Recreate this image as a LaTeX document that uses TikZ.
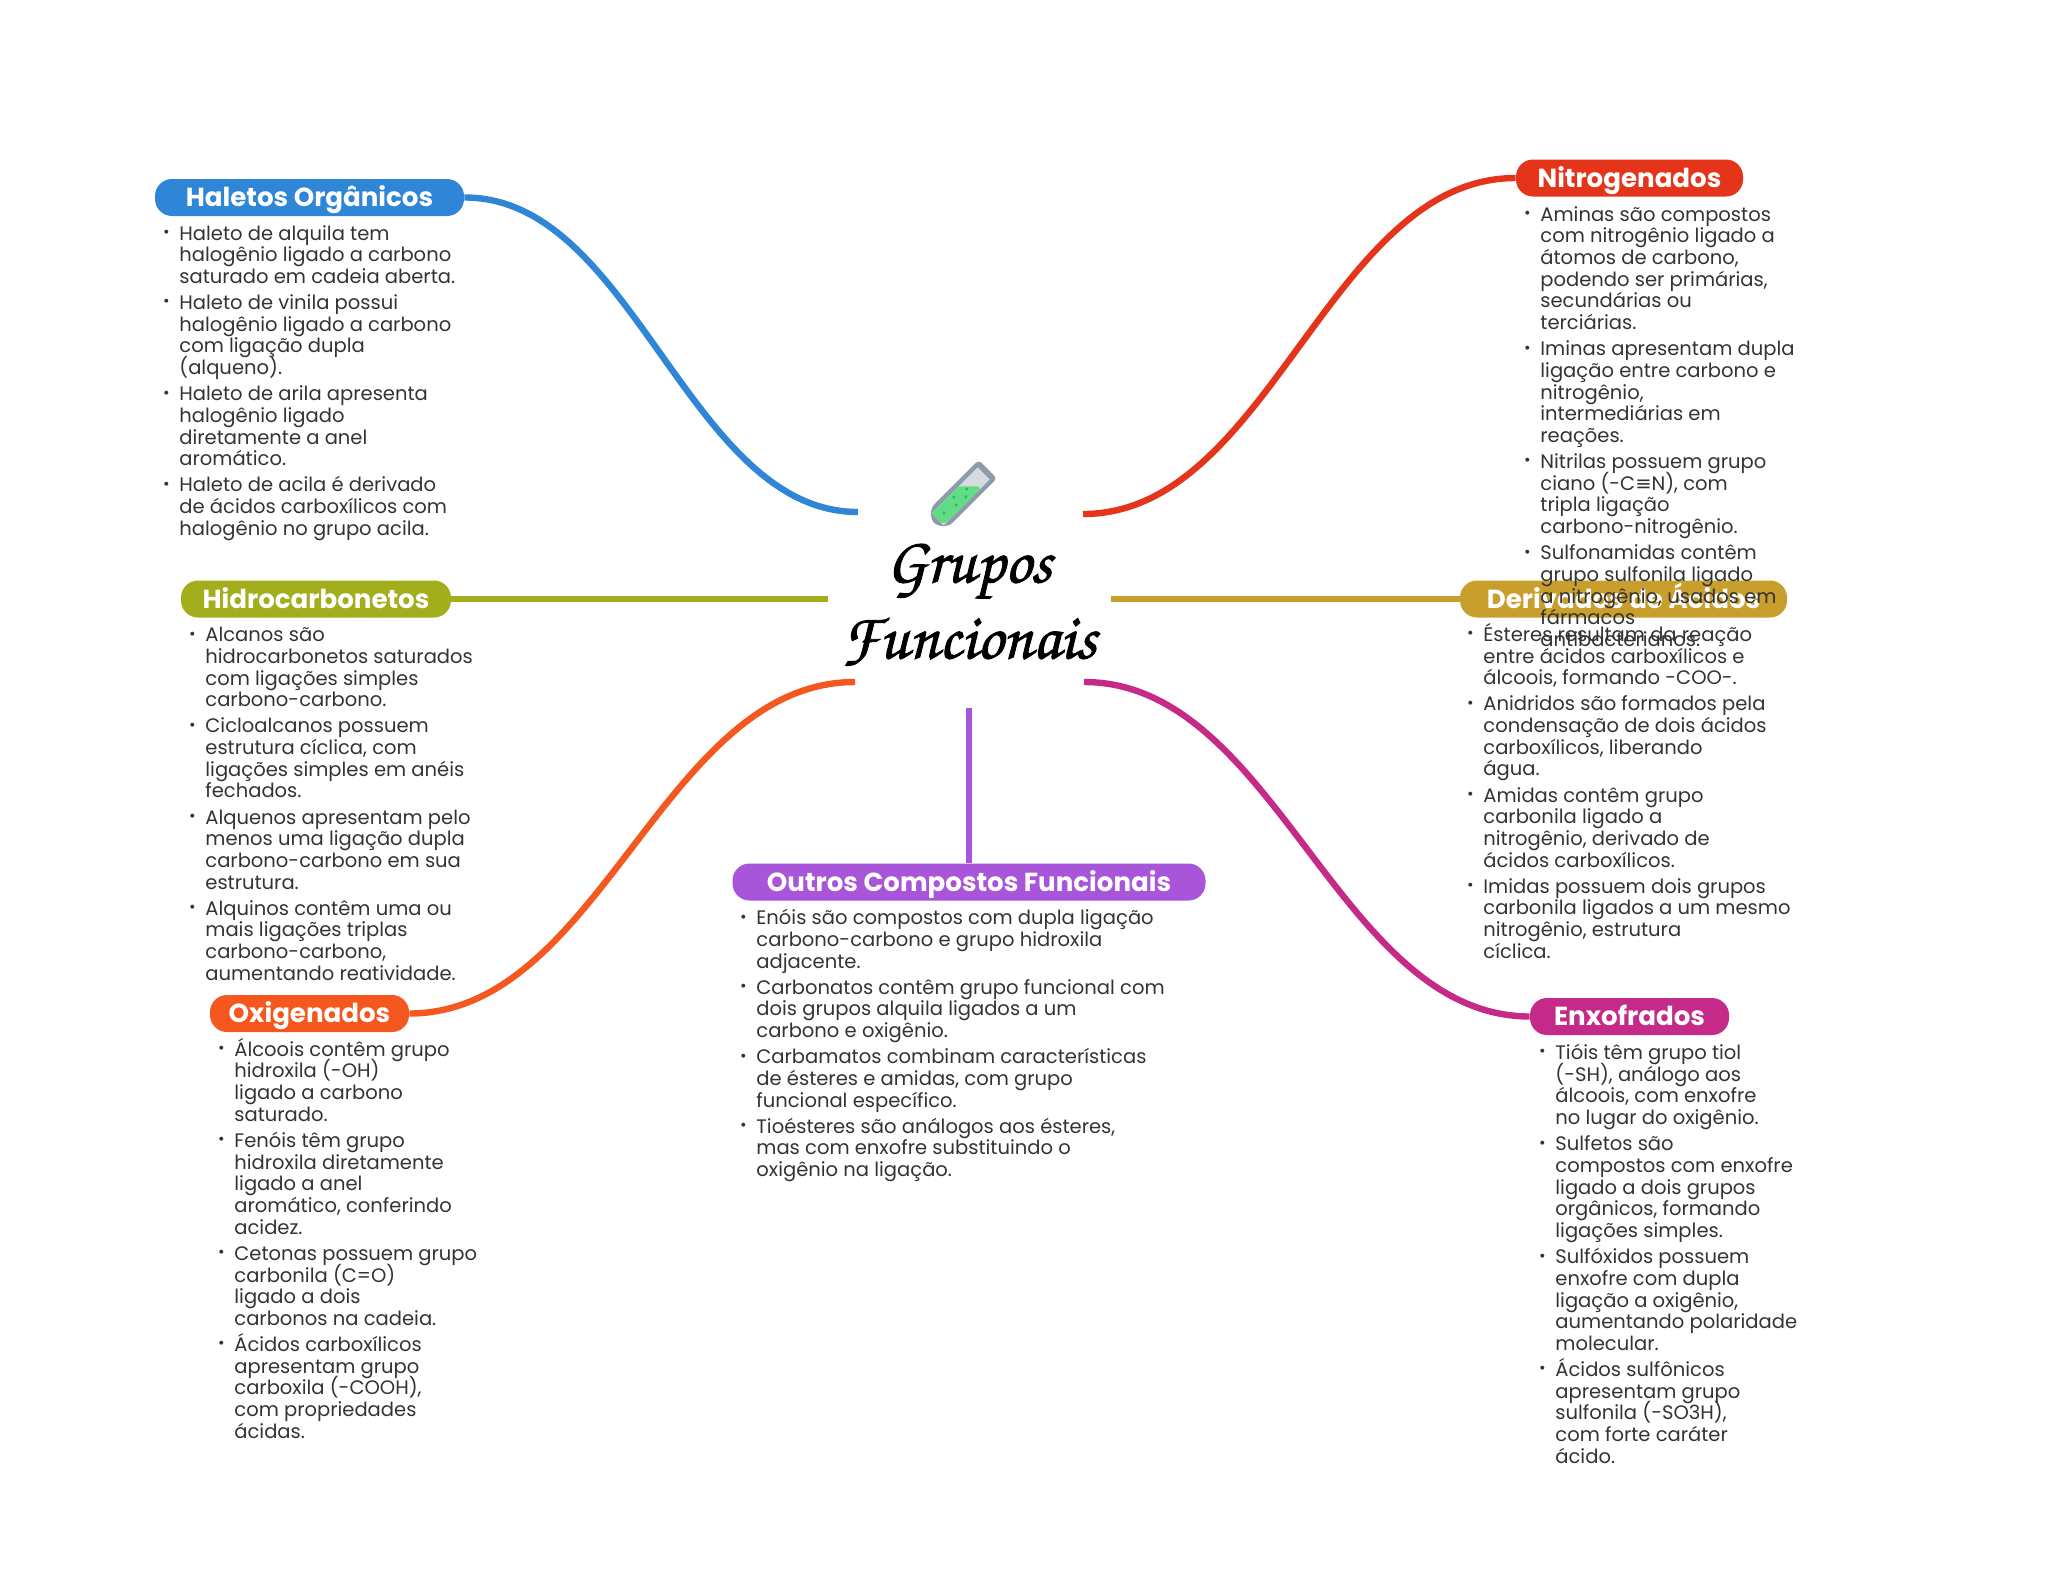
\documentclass[tikz,border=0pt]{standalone}
\usepackage{fontspec}
\setmainfont{Poppins}
\newfontfamily\symfont{DejaVu Sans}
\setlength{\lineskiplimit}{-20pt}
\setlength{\normallineskiplimit}{-20pt}
\definecolor{halblue}{HTML}{2F86D6}
\definecolor{hidolive}{HTML}{A3AE1C}
\definecolor{oxiorange}{HTML}{F4581F}
\definecolor{outpurple}{HTML}{A855D9}
\definecolor{nitred}{HTML}{E4351B}
\definecolor{dergold}{HTML}{C89E2C}
\definecolor{enxmagenta}{HTML}{C62A88}
\definecolor{listgray}{HTML}{333333}
\definecolor{tubegray}{HTML}{8E9BA8}
\definecolor{tubeglass}{HTML}{D5DADF}
\definecolor{tubegreen}{HTML}{62DB86}
\definecolor{tubedot}{HTML}{2FB862}
\newcommand{\bul}{\llap{\raisebox{1.3pt}{\fontsize{8}{8}\selectfont\textbullet}\hspace{4.8pt}}}
\newcommand{\gap}{\\[2.2pt]}
\newcommand{\heavy}[1]{\special{pdf:code 2 Tr 0.45 w}#1\special{pdf:code 0 Tr 1 w}}
\begin{document}
\begin{tikzpicture}[
        x=0.5pt, y=-0.5pt,
        pill/.style={
            rounded corners=8.5pt,
            minimum height=18.5pt,
            inner sep=0pt,
            text=white,
            text height=9pt,
            text depth=0pt,
            font=\fontsize{13.05}{14}\selectfont\bfseries
        },
        itemlist/.style={
            anchor=base west,
            align=left,
            inner sep=0pt,
            text=listgray,
            font=\fontsize{9.77}{10.85}\selectfont
        },
        branch/.style={line width=3.2pt}
    ]
    \useasboundingbox (0,0) rectangle (2048,1569);

    \coordinate (halEnd) at (858,512);
    \coordinate (hidEnd) at (828,599);
    \coordinate (oxiEnd) at (855,682);
    \coordinate (outEnd) at (969,708);
    \coordinate (nitEnd) at (1083,514);
    \coordinate (derEnd) at (1111,599);
    \coordinate (enxEnd) at (1084,682);

    \node[pill, fill=halblue, minimum width=154.5pt] (hal) at (309.5,197.5) {Haletos Orgânicos};
    \node[pill, fill=hidolive, minimum width=135pt] (hid) at (316,599) {Hidrocarbonetos};
    \node[pill, fill=oxiorange, minimum width=99.5pt] (oxi) at (309.5,1013.5) {Oxigenados};
    \node[pill, fill=outpurple, minimum width=236.5pt] (out) at (969,882) {Outros Compostos Funcionais};
    \node[pill, fill=nitred, minimum width=113.5pt] (nit) at (1629.5,178) {Nitrogenados};
    \node[pill, fill=dergold, minimum width=163.5pt] (der) at (1623.5,599) {Derivados de Ácidos};
    \node[pill, fill=enxmagenta, minimum width=99.5pt] (enx) at (1629.5,1016.5) {Enxofrados};

    \draw[branch, halblue] (hal.east) .. controls (634,197) and (688,512) .. (halEnd);
    \draw[branch, hidolive] (hid.east) -- (hidEnd);
    \draw[branch, oxiorange] (oxi.east) .. controls (601,1013) and (663,682) .. (oxiEnd);
    \draw[branch, outpurple] (out.north) -- (outEnd);
    \draw[branch, nitred] (nit.west) .. controls (1329,178) and (1270,514) .. (nitEnd);
    \draw[branch, dergold] (der.west) -- (derEnd);
    \draw[branch, enxmagenta] (enx.west) .. controls (1338,1016) and (1276,682) .. (enxEnd);

    \node[itemlist] (halList) at (179,535.3) {
        \bul Haleto de alquila tem\\ halogênio ligado a carbono\\ saturado em cadeia aberta.\gap
        \bul Haleto de vinila possui\\ halogênio ligado a carbono\\ com ligação dupla\\ (alqueno).\gap
        \bul Haleto de arila apresenta\\ halogênio ligado\\ diretamente a anel\\ aromático.\gap
        \bul Haleto de acila é derivado\\ de ácidos carboxílicos com\\ halogênio no grupo acila.};
    \node[itemlist] (hidList) at (205,980.3) {
        \bul Alcanos são\\ hidrocarbonetos saturados\\ com ligações simples\\ carbono-carbono.\gap
        \bul Cicloalcanos possuem\\ estrutura cíclica, com\\ ligações simples em anéis\\ fechados.\gap
        \bul Alquenos apresentam pelo\\ menos uma ligação dupla\\ carbono-carbono em sua\\ estrutura.\gap
        \bul Alquinos contêm uma ou\\ mais ligações triplas\\ carbono-carbono,\\ aumentando reatividade.};
    \node[itemlist] (oxiList) at (234,1438.3) {
        \bul Álcoois contêm grupo\\ hidroxila (-OH)\\ ligado a carbono\\ saturado.\gap
        \bul Fenóis têm grupo\\ hidroxila diretamente\\ ligado a anel\\ aromático, conferindo\\ acidez.\gap
        \bul Cetonas possuem grupo\\ carbonila (C=O)\\ ligado a dois\\ carbonos na cadeia.\gap
        \bul Ácidos carboxílicos\\ apresentam grupo\\ carboxila (-COOH),\\ com propriedades\\ ácidas.};
    \node[itemlist] (outList) at (756,1176.5) {
        \bul Enóis são compostos com dupla ligação\\ carbono-carbono e grupo hidroxila\\ adjacente.\gap
        \bul Carbonatos contêm grupo funcional com\\ dois grupos alquila ligados a um\\ carbono e oxigênio.\gap
        \bul Carbamatos combinam características\\ de ésteres e amidas, com grupo\\ funcional específico.\gap
        \bul Tioésteres são análogos aos ésteres,\\ mas com enxofre substituindo o\\ oxigênio na ligação.};
    \node[itemlist] (nitList) at (1540,646.5) {
        \bul Aminas são compostos\\ com nitrogênio ligado a\\ átomos de carbono,\\ podendo ser primárias,\\ secundárias ou\\ terciárias.\gap
        \bul Iminas apresentam dupla\\ ligação entre carbono e\\ nitrogênio,\\ intermediárias em\\ reações.\gap
        \bul Nitrilas possuem grupo\\ ciano (-C{\symfont ≡}N), com\\ tripla ligação\\ carbono-nitrogênio.\gap
        \bul Sulfonamidas contêm\\ grupo sulfonila ligado\\ a nitrogênio, usados em\\ fármacos\\ antibacterianos.};
    \node[itemlist] (derList) at (1483,958.3) {
        \bul Ésteres resultam da reação\\ entre ácidos carboxílicos e\\ álcoois, formando -COO-.\gap
        \bul Anidridos são formados pela\\ condensação de dois ácidos\\ carboxílicos, liberando\\ água.\gap
        \bul Amidas contêm grupo\\ carbonila ligado a\\ nitrogênio, derivado de\\ ácidos carboxílicos.\gap
        \bul Imidas possuem dois grupos\\ carbonila ligados a um mesmo\\ nitrogênio, estrutura\\ cíclica.};
    \node[itemlist] (enxList) at (1555,1463.3) {
        \bul Tióis têm grupo tiol\\ (-SH), análogo aos\\ álcoois, com enxofre\\ no lugar do oxigênio.\gap
        \bul Sulfetos são\\ compostos com enxofre\\ ligado a dois grupos\\ orgânicos, formando\\ ligações simples.\gap
        \bul Sulfóxidos possuem\\ enxofre com dupla\\ ligação a oxigênio,\\ aumentando polaridade\\ molecular.\gap
        \bul Ácidos sulfônicos\\ apresentam grupo\\ sulfonila (-SO3H),\\ com forte caráter\\ ácido.};

    % tube above the title
    \begin{scope}[shift={(961,496)}, rotate=45]
        \fill[tubegray, rounded corners=2pt] (-38,-13) [rounded corners=7pt] -- (-38,13) [rounded corners=2pt] -- (38,13) -- (38,-13) [rounded corners=7pt] -- cycle;
        \fill[tubeglass] (-33,-8.5) rectangle (32,8.5);
        \fill[tubegreen] (-33,-8.5) [rounded corners=3pt] -- (-33,8.5) -- (22,8.5) [sharp corners] -- (5,-8.5) -- cycle;
        \foreach \dotx/\doty in {-24/0, -10/3, -6/-4, 3/4, 9/-1}
            \fill[tubedot] (\dotx,\doty) circle (1.8);
    \end{scope}

    \node[align=center, font=\usefont{OT1}{pzc}{mb}{it}\fontsize{32.5}{38}\selectfont] (root) at (969,604) {\heavy{Grupos}\\\heavy{Funcionais}};
\end{tikzpicture}
\end{document}
